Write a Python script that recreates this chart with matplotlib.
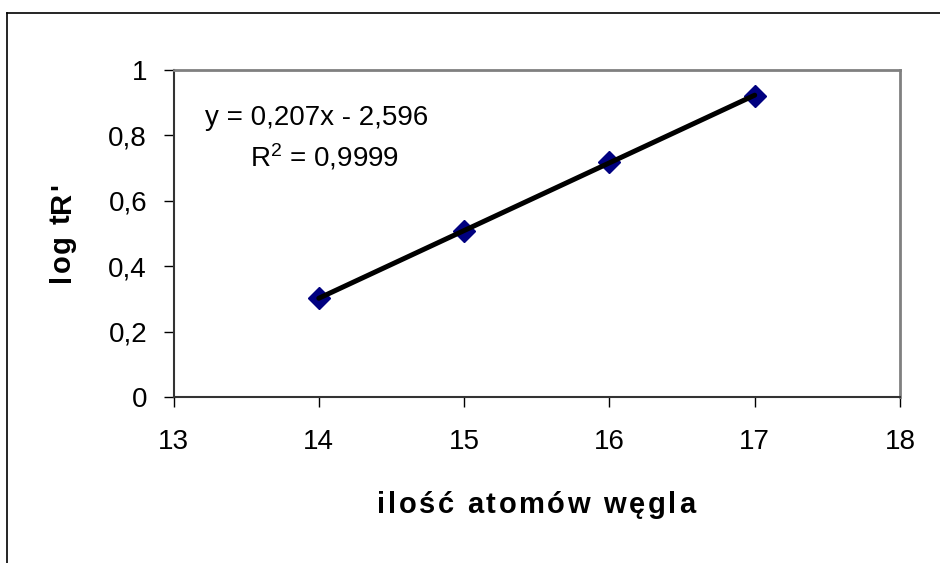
import matplotlib
matplotlib.use("Agg")
import matplotlib.pyplot as plt
from matplotlib.lines import Line2D
import numpy as np

plt.rcParams['font.family'] = ['Liberation Sans', 'DejaVu Sans']
plt.rcParams['mathtext.fontset'] = 'custom'
plt.rcParams['mathtext.rm'] = 'Liberation Sans'

carbon_atoms = [14, 15, 16, 17]
log_tr = [0.303, 0.509, 0.718, 0.920]
x_ticks = [13, 14, 15, 16, 17, 18]
y_ticks = [0, 0.2, 0.4, 0.6, 0.8, 1.0]
y_tick_labels = ['0', '0,2', '0,4', '0,6', '0,8', '1']
slope, intercept = 0.207, -2.596
x_label = 'ilość atomów węgla'
y_label = "log tR'"

W, H = 940, 563
fig = plt.figure(figsize=(W / 100, H / 100), dpi=100)
ax = fig.add_axes([173.5 / W, 1 - 397 / H, (900 - 173.5) / W, (397 - 70) / H])
renderer = fig.canvas.get_renderer()

# outer chart frame (left and top edges visible)
fig.add_artist(Line2D([7.5 / W, 7.5 / W], [0, 1 - 12.5 / H], transform=fig.transFigure,
                      color='black', lw=1.2))
fig.add_artist(Line2D([7.5 / W, 1], [1 - 12.5 / H, 1 - 12.5 / H], transform=fig.transFigure,
                      color='black', lw=1.2))

ax.plot(carbon_atoms, log_tr, linestyle='none', marker='D', markersize=11,
        color='#000080', zorder=3)
xs = np.array([carbon_atoms[0], carbon_atoms[-1]])
ax.plot(xs, slope * xs + intercept, color='black', lw=3.6, solid_capstyle='round', zorder=4)

ax.set_xlim(13, 18)
ax.set_ylim(0, 1)
ax.set_xticks(x_ticks)
ax.set_xticklabels([str(t) for t in x_ticks])
ax.set_yticks(y_ticks)
ax.set_yticklabels(y_tick_labels)
ax.tick_params(axis='both', direction='out', length=7, width=1, colors='black', labelsize=20)
ax.tick_params(axis='x', pad=16)
ax.tick_params(axis='y', pad=12)

for s in ['top', 'right']:
    ax.spines[s].set_color('#808080')
    ax.spines[s].set_linewidth(2)
for s in ['left', 'bottom']:
    ax.spines[s].set_color('#333333')
    ax.spines[s].set_linewidth(1.5)


def text_width(s, **kw):
    t = fig.text(0, 0, s, **kw)
    w = t.get_window_extent(renderer).width
    t.remove()
    return w


def tracked_text(s, start, end, cross, vertical=False, **kw):
    """Draw string s spread between pixel positions start..end."""
    ref = text_width('l', **kw)
    pos = [0.0] + [text_width(s[:i] + 'l', **kw) - ref for i in range(1, len(s))]
    natural = text_width(s, **kw)
    extra = ((end - start) - natural) / (len(s) - 1)
    for i, ch in enumerate(s):
        if ch == ' ':
            continue
        p = start + pos[i] + i * extra
        if vertical:
            fig.text(cross / W, p / H, ch, ha='center', va='bottom', rotation=90,
                     rotation_mode='anchor', **kw) if False else \
                fig.text(cross / W, p / H, ch, ha='center', va='bottom', rotation=90, **kw)
        else:
            fig.text(p / W, 1 - cross / H, ch, ha='left', va='baseline', **kw)


label_kw = dict(fontsize=21, fontweight='bold')
tracked_text(x_label, 377, 695, 513, **label_kw)
# vertical label: from bottom (y=282 in image coords) upward to top (183)
tracked_text(y_label, H - 282, H - 183, 62, vertical=True, **label_kw)

fig.text(205 / W, 1 - 118 / H, 'y = 0,207x - 2,596', ha='left', va='center', fontsize=20)
fig.text(250 / W, 1 - 157 / H, r'R$\mathregular{^2}$ = 0,9999', ha='left', va='center', fontsize=20)

fig.savefig('out.png', dpi=100)
